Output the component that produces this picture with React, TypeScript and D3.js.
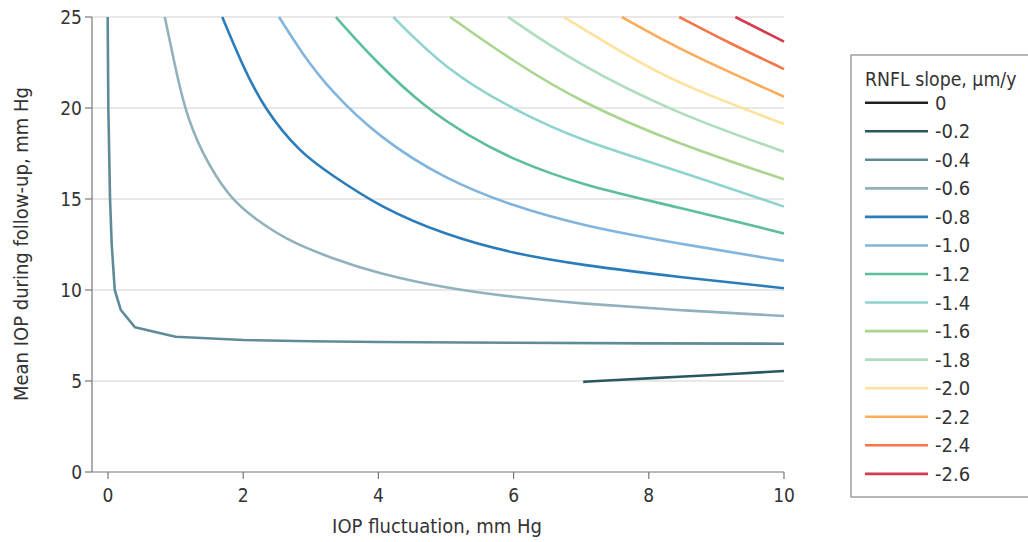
import React from 'react';
import * as d3 from 'd3';

// contour levels (RNFL slope, µm/y) and their colours
const levels = ['0', '-0.2', '-0.4', '-0.6', '-0.8', '-1.0', '-1.2', '-1.4', '-1.6', '-1.8', '-2.0', '-2.2', '-2.4', '-2.6'];
const colors = ['#231f20', '#2a5663', '#5f8b99', '#91b2bd', '#2b7cbb', '#82b5dd', '#5dbf99', '#8fd3cf', '#a9d58f', '#aedcbd', '#fee19a', '#fdab5b', '#f47547', '#d33c4f'];

// contour points [IOP fluctuation, mean IOP]
const c0: [number, number][] = [];
const c02: [number, number][] = [[7.03, 4.95], [7.5, 5.06], [8.5, 5.24], [9.2, 5.38], [10, 5.55]];
const c04: [number, number][] = [[-0.005, 25], [0.005, 20], [0.03, 15], [0.055, 12.5], [0.1, 10], [0.19, 8.9], [0.4, 7.95], [1, 7.43], [2, 7.25], [3, 7.18], [4, 7.14], [6, 7.1], [8, 7.07], [10, 7.05]];
const c06: [number, number][] = [[0.84, 25], [0.98, 22.5], [1.13, 20], [1.36, 17.7], [1.8, 15], [2.2, 13.85], [2.64, 12.75], [3.3, 11.75], [4, 10.9], [5, 10.1], [6, 9.6], [7, 9.25], [8.4, 8.9], [10, 8.57]];
const c08: [number, number][] = [[1.69, 25], [1.97, 22.5], [2.3, 20], [2.85, 17.5], [3.3, 16.35], [4, 14.6], [5, 13.0], [6, 12.0], [7, 11.37], [8.4, 10.73], [10, 10.1]];
const c10: [number, number][] = [[2.53, 25], [2.87, 23], [3.28, 21.0], [4.0, 18.4], [5, 16.05], [6, 14.6], [7, 13.55], [8.4, 12.57], [10, 11.6]];
const c12: [number, number][] = [[3.37, 25], [3.97, 22.5], [4.7, 20.0], [5.3, 18.55], [6, 17.14], [7, 15.77], [8.4, 14.58], [10, 13.11]];
const c14: [number, number][] = [[4.22, 25], [5, 22.1], [6, 19.9], [7, 18.2], [8.4, 16.6], [10, 14.58]];
const c16: [number, number][] = [[5.06, 25], [6, 22.55], [7, 20.3], [8.4, 18.06], [10, 16.08]];
const c18: [number, number][] = [[5.92, 25], [6.9, 22.5], [8.4, 19.7], [10, 17.6]];
const c20: [number, number][] = [[6.74, 25], [7.6, 23.05], [8.41, 21.36], [10, 19.12]];
const c22: [number, number][] = [[7.6, 25], [8.41, 23.28], [10, 20.62]];
const c24: [number, number][] = [[8.45, 25], [9.2, 23.55], [10, 22.14]];
const c26: [number, number][] = [[9.28, 25], [10, 23.65]];
const contours = [c0, c02, c04, c06, c08, c10, c12, c14, c16, c18, c20, c22, c24, c26];

const xTicks = [0, 2, 4, 6, 8, 10];
const yTicks = [0, 5, 10, 15, 20, 25];

const FONT = '"Liberation Sans Narrow", "DejaVu Sans Condensed", "Open Sans", sans-serif';

export default function App() {
  const width = 1028;
  const height = 542;
  const axisX = 92; // y axis line
  const x = d3.scaleLinear().domain([0, 10]).range([108, 784]);
  const y = d3.scaleLinear().domain([0, 25]).range([472, 17]);

  const lineLinear = d3.line<[number, number]>().x(d => x(d[0])).y(d => y(d[1]));
  const lineSmooth = d3.line<[number, number]>().x(d => x(d[0])).y(d => y(d[1])).curve(d3.curveBasis);

  const legX = 851;
  const legTop = 55;
  const rowH = 28.55;

  return (
    <svg width={width} height={height} style={{ position: 'absolute', top: 0, left: 0, background: '#fff' }} fontFamily={FONT}>
      {/* gridlines */}
      {yTicks.filter(t => t > 0).map(t => (
        <line key={'g' + t} x1={axisX} x2={x(10)} y1={y(t)} y2={y(t)} stroke="#e0e0e0" strokeWidth={1.5} />
      ))}

      {/* contours */}
      {contours.map((c, i) => c.length > 1 ? (
        <path key={'c' + i} d={(i === 2 ? lineLinear : lineSmooth)(c) || ''} fill="none" stroke={colors[i]} strokeWidth={2.6} strokeLinejoin="round" />
      ) : null)}

      {/* y axis */}
      <line x1={axisX} x2={axisX} y1={y(25)} y2={y(0)} stroke="#777" strokeWidth={1.2} />
      {yTicks.map(t => (
        <g key={'y' + t}>
          <line x1={axisX - 7} x2={axisX} y1={y(t)} y2={y(t)} stroke="#777" strokeWidth={1.2} />
          <text x={axisX - 10} y={y(t)} dy="0.35em" textAnchor="end" fontSize={19} fill="#333">{t}</text>
        </g>
      ))}

      {/* x axis */}
      <line x1={axisX} x2={x(10)} y1={y(0)} y2={y(0)} stroke="#777" strokeWidth={1.2} />
      {xTicks.map(t => (
        <g key={'x' + t}>
          <line x1={x(t)} x2={x(t)} y1={y(0)} y2={y(0) + 7} stroke="#777" strokeWidth={1.2} />
          <text x={x(t)} y={y(0) + 30} textAnchor="middle" fontSize={19} fill="#333">{t}</text>
        </g>
      ))}

      <text x={437} y={533} textAnchor="middle" fontSize={20} fill="#333">IOP fluctuation, mm Hg</text>
      <text transform={`translate(28,${244}) rotate(-90)`} textAnchor="middle" fontSize={20} fill="#333">Mean IOP during follow-up, mm Hg</text>

      {/* legend */}
      <rect x={legX} y={legTop} width={190} height={442} fill="#fff" stroke="#888" strokeWidth={1.2} />
      <text x={865} y={86} fontSize={19.3} fill="#333">RNFL slope, µm/y</text>
      {levels.map((l, i) => (
        <g key={'l' + l}>
          <line x1={865} x2={928} y1={102.7 + i * rowH} y2={102.7 + i * rowH} stroke={colors[i]} strokeWidth={2.6} />
          <text x={935} y={102.7 + i * rowH} dy="0.35em" fontSize={20} fill="#333">{l}</text>
        </g>
      ))}
    </svg>
  );
}
